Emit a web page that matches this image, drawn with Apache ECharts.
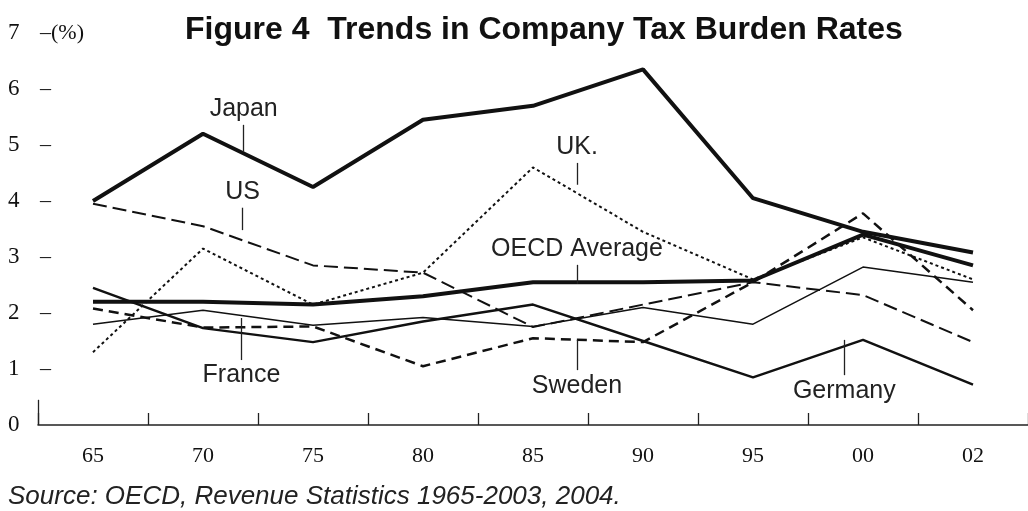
<!DOCTYPE html>
<html>
<head>
<meta charset="utf-8">
<script src="https://cdn.jsdelivr.net/npm/echarts@6/dist/echarts.min.js"></script>
<style>
  html, body { margin: 0; padding: 0; background: #fff; }
  #chart { width: 1028px; height: 511px; }
</style>
</head>
<body>
<div id="chart"></div>
<script>
// years on the x axis (one category per point)
var years = ['65', '70', '75', '80', '85', '90', '95', '00', '02'];

// company tax burden, %
var japan   = [4.0, 5.2, 4.25, 5.45, 5.7, 6.35, 4.05, 3.45, 3.08];
var us      = [3.95, 3.55, 2.85, 2.72, 1.75, 2.15, 2.55, 2.32, 1.48];
var uk      = [1.3, 3.15, 2.15, 2.72, 4.6, 3.45, 2.6, 3.35, 2.6];
var oecd    = [2.2, 2.2, 2.15, 2.3, 2.55, 2.55, 2.58, 3.4, 2.85];
var france  = [1.8, 2.05, 1.78, 1.92, 1.76, 2.1, 1.8, 2.82, 2.55];
var sweden  = [2.08, 1.74, 1.76, 1.05, 1.55, 1.48, 2.55, 3.78, 2.05];
var germany = [2.45, 1.73, 1.48, 1.85, 2.15, 1.5, 0.85, 1.52, 0.72];

// pointer lines for the series names: [x position in steps from 65, from value, to value]
var japanTag   = [1.37, 4.88, 5.36];
var usTag      = [1.36, 3.48, 3.88];
var ukTag      = [4.4, 4.29, 4.68];
var oecdTag    = [4.4, 2.52, 2.86];
var franceTag  = [1.35, 1.91, 1.16];
var swedenTag  = [4.4, 1.52, 0.98];
var germanyTag = [6.83, 1.52, 0.89];

var myChart = echarts.init(document.getElementById('chart'), null, {renderer: 'canvas'});

// name + small pointer, drawn on the hidden value x axis so it can sit between years
function tag(name, t) {
    return {
        name: name + ' tag',
        type: 'line',
        xAxisIndex: 1,
        data: [],
        markLine: {
            silent: true,
            symbol: ['none', 'none'],
            lineStyle: {color: '#222', width: 1.3, type: 'solid'},
            label: {
                show: true,
                position: 'end',
                distance: 3,
                formatter: name,
                color: '#222',
                fontFamily: 'Liberation Sans, Arial, sans-serif',
                fontSize: 25
            },
            data: [[{coord: [t[0], t[1]]}, {coord: [t[0], t[2]]}]]
        }
    };
}

function line(name, data, width, type) {
    return {
        name: name,
        type: 'line',
        data: data,
        symbol: 'none',
        lineStyle: {color: '#111', width: width, type: type}
    };
}

var option = {
    animation: false,
    backgroundColor: '#fff',
    title: [{
        text: 'Figure 4  Trends in Company Tax Burden Rates',
        left: 180,
        top: 9,
        textStyle: {
            fontFamily: 'Liberation Sans, Arial, sans-serif',
            fontWeight: 'bold',
            fontSize: 32,
            color: '#111'
        }
    }, {
        text: 'Source: OECD, Revenue Statistics 1965-2003, 2004.',
        left: 3,
        top: 479,
        textStyle: {
            fontFamily: 'Liberation Sans, Arial, sans-serif',
            fontStyle: 'italic',
            fontWeight: 'normal',
            fontSize: 26,
            color: '#222'
        }
    }],
    grid: {left: 38, top: 33, width: 999, height: 392},
    xAxis: [{
        type: 'category',
        data: years,
        boundaryGap: true,
        axisLine: {lineStyle: {color: '#222', width: 1.5}},
        axisTick: {show: true, inside: true, length: 12, interval: 0, lineStyle: {color: '#222', width: 1.3}},
        axisLabel: {
            margin: 20,
            fontFamily: 'Liberation Serif, Times New Roman, serif',
            fontSize: 22,
            color: '#111'
        }
    }, {
        type: 'value',
        min: -0.5,
        max: 8.5,
        show: false
    }],
    yAxis: {
        type: 'value',
        min: 0,
        max: 7,
        interval: 1,
        axisLine: {show: false},
        axisTick: {show: false},
        splitLine: {show: false},
        axisLabel: {
            align: 'left',
            margin: 30,
            fontFamily: 'Liberation Serif, Times New Roman, serif',
            fontSize: 23,
            color: '#111',
            formatter: function (v) {
                if (v === 0) return '{n|0}';
                return '{n|' + v + '}{d|' + (v === 7 ? '\u2013(%)' : '\u2013') + '}';
            },
            rich: {
                n: {width: 32, fontFamily: 'Liberation Serif, serif', fontSize: 23, color: '#111'},
                d: {fontFamily: 'Liberation Serif, serif', fontSize: 22, color: '#111'}
            }
        }
    },
    series: [
        line('Japan', japan, 4, 'solid'),
        line('US', us, 2, [14, 6]),
        line('UK.', uk, 2, [3, 3]),
        line('OECD Average', oecd, 4, 'solid'),
        line('France', france, 1.5, 'solid'),
        line('Sweden', sweden, 2.5, [10, 6]),
        line('Germany', germany, 2.5, 'solid'),
        tag('Japan', japanTag),
        tag('US', usTag),
        tag('UK.', ukTag),
        tag('OECD Average', oecdTag),
        tag('France', franceTag),
        tag('Sweden', swedenTag),
        tag('Germany', germanyTag),
        {
            // short stub of the y axis just above the origin
            name: 'y stub',
            type: 'line',
            xAxisIndex: 1,
            data: [],
            markLine: {
                silent: true,
                symbol: ['none', 'none'],
                label: {show: false},
                lineStyle: {color: '#222', width: 1.3, type: 'solid'},
                data: [[{coord: [-0.5, 0]}, {coord: [-0.5, 0.45]}]]
            }
        }
    ]
};

myChart.setOption(option);
</script>
</body>
</html>
